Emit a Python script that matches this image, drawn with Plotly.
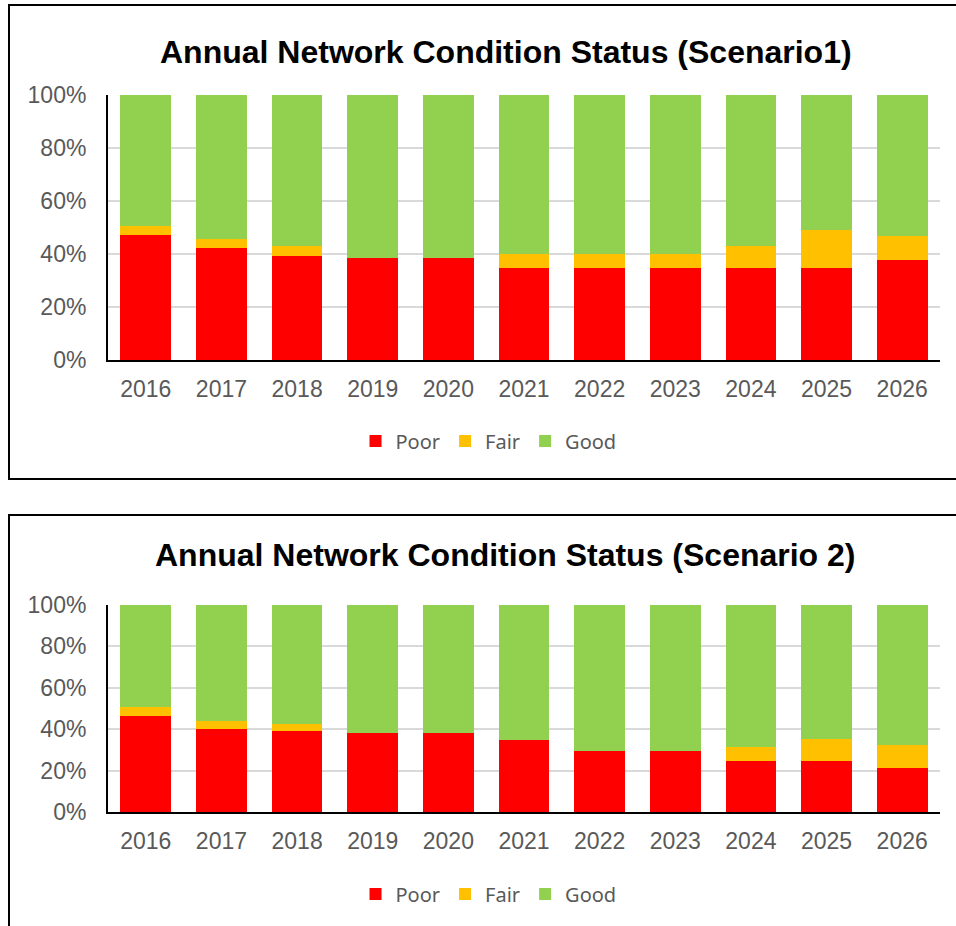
import plotly.graph_objects as go

years = ['2016', '2017', '2018', '2019', '2020', '2021', '2022', '2023', '2024', '2025', '2026']

# scenario 1 (percent of network)
poor_s1 = [47, 42.3, 39.3, 38.4, 38.4, 34.8, 34.8, 34.8, 34.8, 34.8, 37.7]
fair_s1 = [3.4, 3.5, 3.9, 0, 0, 5.1, 5.1, 5.1, 8.1, 14.4, 9.0]
good_s1 = [49.6, 54.2, 56.8, 61.6, 61.6, 60.1, 60.1, 60.1, 57.1, 50.8, 53.3]

# scenario 2
poor_s2 = [46.6, 40.0, 38.9, 38.4, 38.4, 34.7, 29.7, 29.7, 24.8, 24.8, 21.5]
fair_s2 = [4.0, 3.9, 3.5, 0, 0, 0, 0, 0, 6.7, 10.7, 10.8]
good_s2 = [49.4, 56.1, 57.6, 61.6, 61.6, 65.3, 70.3, 70.3, 68.5, 64.5, 67.7]

colors = {'Poor': '#FF0000', 'Fair': '#FFC000', 'Good': '#92D050'}
W, H = 956, 926

fig = go.Figure()

for name, vals in [('Poor', poor_s1), ('Fair', fair_s1), ('Good', good_s1)]:
    fig.add_trace(go.Bar(x=years, y=vals, name=name, marker_color=colors[name],
                         marker_line_width=0, xaxis='x', yaxis='y', legend='legend'))
for name, vals in [('Poor', poor_s2), ('Fair', fair_s2), ('Good', good_s2)]:
    fig.add_trace(go.Bar(x=years, y=vals, name=name, marker_color=colors[name],
                         marker_line_width=0, xaxis='x2', yaxis='y2', legend='legend2'))

tick_font = dict(family='Liberation Sans, Arial', size=23, color='#595959')

xax = dict(domain=[108 / W, 940 / W], showline=True, linecolor='black', linewidth=2,
           tickfont=tick_font, ticks='', ticklabelstandoff=7, showgrid=False,
           automargin=False)
yax = dict(range=[0, 100], dtick=20, ticksuffix='%', showline=True, linecolor='black',
           linewidth=2, gridcolor='#D9D9D9', gridwidth=1.5, tickfont=tick_font,
           ticks='', ticklabelstandoff=15, zeroline=False, automargin=False)

legend_style = dict(orientation='h', xanchor='center', yanchor='middle',
                    font=dict(family='Noto Sans', size=20, color='#595959'),
                    itemwidth=30, traceorder='normal', bgcolor='rgba(0,0,0,0)')

fig.update_layout(
    width=W, height=H,
    margin=dict(l=0, r=0, t=0, b=0, autoexpand=False),
    paper_bgcolor='white', plot_bgcolor='white',
    barmode='stack', bargap=0.33,
    xaxis=dict(xax, anchor='y'),
    yaxis=dict(yax, domain=[1 - 360 / H, 1 - 95 / H], anchor='x'),
    xaxis2=dict(xax, anchor='y2'),
    yaxis2=dict(yax, domain=[1 - 812 / H, 1 - 605 / H], anchor='x2'),
    legend=dict(legend_style, x=0.511, y=1 - 441 / H),
    legend2=dict(legend_style, x=0.511, y=1 - 894 / H),
    showlegend=True,
)

title_font = dict(family='Liberation Sans, Arial', size=32, color='black')
fig.add_annotation(text='<b>Annual Network Condition Status (Scenario1)</b>', x=506 / W,
                   y=1 - 52 / H, xref='paper', yref='paper', showarrow=False,
                   font=title_font, xanchor='center', yanchor='middle')
fig.add_annotation(text='<b>Annual Network Condition Status (Scenario 2)</b>', x=505 / W,
                   y=1 - 555 / H, xref='paper', yref='paper', showarrow=False,
                   font=title_font, xanchor='center', yanchor='middle')

# chart area borders (right side runs off the page)
for top, bottom in [(5, 479), (515, 940)]:
    fig.add_shape(type='rect', xref='paper', yref='paper', x0=9 / W, x1=1.01,
                  y0=1 - bottom / H, y1=1 - top / H, line=dict(color='black', width=2))

# drop the default page margin so the figure sits at the window's origin
fig.write_html('out.html', config={'displayModeBar': False},
               post_script="document.body.style.margin='0';")
